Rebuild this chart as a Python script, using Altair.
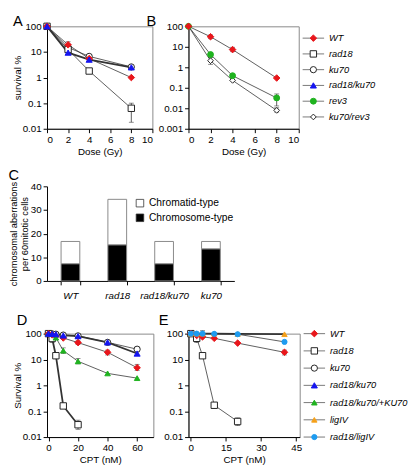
import altair as alt
import pandas as pd

# ---------------- data ----------------
# Panel A: survival (%) after IR
A_dose = [0, 2, 4, 8]
A_WT = [100, 19, 5.5, 1.0]
A_rad18 = [100, 12.5, 1.8, 0.063]
A_ku70 = [100, 15, 6.7, 2.6]
A_rad18ku70 = [100, 9.4, 5.0, 2.5]
A_WT_lo = [None, 15, 4.6, None]
A_WT_hi = [None, 25, 7.2, None]
A_rad18_lo = [None, None, None, 0.018]
A_rad18_hi = [None, None, None, 0.1]

# Panel B: survival (%) after IR
B_dose = [0, 2, 4, 8]
B_WT = [100, 31, 7.3, 0.3]
B_rev3 = [100, 4.2, 0.39, 0.032]
B_ku70rev3 = [100, 2.1, 0.23, 0.0079]
B_WT_lo = [None, 25, 5.8, None]
B_WT_hi = [None, 38, 9.5, None]
B_rev3_lo = [None, 3.2, None, 0.013]
B_rev3_hi = [None, 5.3, None, 0.05]
B_ku70rev3_lo = [None, 1.4, None, 0.0065]
B_ku70rev3_hi = [None, 3.0, None, 0.0105]

# Panel C: chromosomal aberrations per 60 mitotic cells
C_geno = ["WT", "rad18", "rad18/ku70", "ku70"]
C_chromosome = [7.3, 15.3, 7.3, 13.6]
C_chromatid = [9.4, 19.2, 9.4, 3.1]

# Panel D: survival (%) after CPT
D_cpt = [0, 2.5, 5, 10, 20, 40, 60]
D_WT = [100, 90, 80, 68, 45, 19, 4.8]
D_rad18 = [100, 65, 14, 0.16, 0.03, None, None]
D_ku70 = [100, 98, 95, 88, 82, 46, 25]
D_rad18ku70 = [100, 98, 95, 85, 80, 46, 17]
D_plusKU70 = [100, 95, 70, 22, 8.5, 2.9, 1.9]
D_WT_lo = [None, None, None, None, 38, 15, 3.8]
D_WT_hi = [None, None, None, None, 52, 23, 6.5]
D_rad18_lo = [None, 45, None, 0.13, 0.02, None, None]
D_rad18_hi = [None, 80, None, 0.2, 0.045, None, None]
D_ku70_lo = [None, None, None, None, None, None, 20]
D_ku70_hi = [None, None, None, None, None, None, 30]
D_plusKU70_lo = [None, None, None, 17, 6.8, None, None]
D_plusKU70_hi = [None, None, None, 28, 11, None, None]

# Panel E: survival (%) after CPT
E_cpt = [0, 2.5, 5, 10, 20, 40]
E_WT = [100, 85, 75, 66, 43, 19]
E_rad18 = [100, 66, 14, 0.17, 0.04, None]
E_ligIV = [100, 100, 100, 100, 97, 95]
E_rad18ligIV = [100, 100, 100, 98, 95, 48]
E_WT_lo = [None, None, None, None, None, 15]
E_WT_hi = [None, None, None, None, None, 23]
E_rad18_lo = [80, 45, None, 0.13, 0.028, None]
E_rad18_hi = [130, 80, None, 0.21, 0.055, None]
E_rad18ligIV_lo = [None, None, 80, None, None, None]
E_rad18ligIV_hi = [None, None, 130, None, None, None]

LEG_B = ["WT", "rad18", "ku70", "rad18/ku70", "rev3", "ku70/rev3"]
LEG_E = ["WT", "rad18", "ku70", "rad18/ku70", "rad18/ku70/+KU70", "ligIV", "rad18/ligIV"]

# ---------------- styles ----------------
RED = "#e8161b"
BLUE = "#1515f0"
GREEN = "#1fb31f"
ORANGE = "#f5a01a"
CYAN = "#1e9bf0"
STYLE = {
    "WT": ("diamond", RED, RED, 45),
    "rad18": ("square", "white", "#222", 28),
    "ku70": ("circle", "white", "#222", 60),
    "rad18/ku70": ("triangle-up", BLUE, BLUE, 55),
    "rev3": ("circle", GREEN, GREEN, 50),
    "ku70/rev3": ("diamond", "white", "#222", 45),
    "rad18/ku70/+KU70": ("triangle-up", GREEN, GREEN, 45),
    "ligIV": ("triangle-up", ORANGE, ORANGE, 50),
    "rad18/ligIV": ("circle", CYAN, CYAN, 60),
}
NAMES = list(STYLE.keys())
FONT = "Liberation Sans"


def enc_style():
    return dict(
        shape=alt.Shape("series:N", scale=alt.Scale(domain=NAMES, range=[STYLE[n][0] for n in NAMES]), legend=None),
        fill=alt.Fill("series:N", scale=alt.Scale(domain=NAMES, range=[STYLE[n][1] for n in NAMES]), legend=None),
        stroke=alt.Stroke("series:N", scale=alt.Scale(domain=NAMES, range=[STYLE[n][2] for n in NAMES]), legend=None),
        size=alt.Size("series:N", scale=alt.Scale(domain=NAMES, range=[STYLE[n][3] for n in NAMES]), legend=None),
    )


def rows(series, xs, ys, lo=None, hi=None):
    out = []
    for i, (xv, yv) in enumerate(zip(xs, ys)):
        if yv is None:
            continue
        out.append(dict(series=series, x=xv, y=yv,
                        lo=(lo[i] if lo else None), hi=(hi[i] if hi else None)))
    return out


def letter_title(letter, dx=0, offset=-2):
    return alt.TitleParams(letter, anchor="start", frame="bounds", fontSize=15,
                           fontWeight="normal", offset=offset, dx=dx)


def survival_panel(data, order, letter, xdom, xticks, ydom, yticks, xtitle, ytitle,
                   w, h, thick=(), letter_dx=0, letter_offset=-2):
    df = pd.DataFrame(data)
    df["ord"] = df["series"].map({s: i for i, s in enumerate(order)})
    df["lw"] = df["series"].map(lambda s: 1.8 if s in thick else 0.8)
    base = alt.Chart(df)
    xax = alt.Axis(values=xticks, title=xtitle, labelPadding=2, titlePadding=2)
    yax = alt.Axis(values=yticks, format="~g", title=ytitle, minExtent=24, maxExtent=24,
                   titlePadding=1, labelPadding=2)
    xs = alt.Scale(domain=xdom, nice=False, zero=False)
    ys = alt.Scale(type="log", domain=ydom, nice=False)
    x = alt.X("x:Q", scale=xs, axis=xax)
    y = alt.Y("y:Q", scale=ys, axis=yax)
    line = base.mark_line(color="#333").encode(
        x=x, y=y, detail="series:N",
        strokeWidth=alt.StrokeWidth("lw:Q", scale=None), order="x:Q")
    eb = base.transform_filter("isValid(datum.lo)")
    yl = alt.Y("lo:Q", scale=ys, axis=yax)
    err = eb.mark_rule(color="#333", strokeWidth=0.8).encode(x=x, y=yl, y2="hi:Q")
    cap_lo = eb.mark_tick(orient="horizontal", size=5, thickness=0.8, color="#333").encode(x=x, y=yl)
    cap_hi = eb.mark_tick(orient="horizontal", size=5, thickness=0.8, color="#333").encode(
        x=x, y=alt.Y("hi:Q", scale=ys, axis=yax))
    pts = base.mark_point(filled=True, opacity=1, strokeWidth=1).encode(
        x=x, y=y, order=alt.Order("ord:Q"), **enc_style())
    return alt.layer(line, err, cap_lo, cap_hi, pts).properties(
        width=w, height=h,
        title=letter_title(letter, letter_dx, letter_offset),
        view=alt.ViewBackground(stroke="#888", strokeWidth=1),
    )


def legend_panel(names, h, dx, padding):
    df = pd.DataFrame({"series": names})
    y = alt.Y("series:N", sort=names, axis=None, scale=alt.Scale(type="point", padding=padding))
    base = alt.Chart(df)
    rule = base.mark_rule(color="#555", strokeWidth=0.8).encode(
        y=y, x=alt.value(dx), x2=alt.value(dx + 22))
    pts = base.mark_point(filled=True, opacity=1, strokeWidth=1).encode(
        y=y, x=alt.value(dx + 11), **enc_style())
    txt = base.mark_text(align="left", baseline="middle", fontStyle="italic", fontSize=9.5,
                         font=FONT, color="black").encode(
        y=y, x=alt.value(dx + 27), text="series:N")
    return alt.layer(rule, pts, txt).properties(width=40, height=h)


# ---------------- panels ----------------
dA = (rows("ku70", A_dose, A_ku70) + rows("rad18", A_dose, A_rad18, A_rad18_lo, A_rad18_hi)
      + rows("WT", A_dose, A_WT, A_WT_lo, A_WT_hi) + rows("rad18/ku70", A_dose, A_rad18ku70))
panelA = survival_panel(dA, ["ku70", "rad18", "WT", "rad18/ku70"], "A", [0, 10],
                        [0, 2, 4, 6, 8, 10], [0.01, 100], [0.01, 0.1, 1, 10, 100],
                        "Dose (Gy)", "survival %", 108, 105, thick=("rad18/ku70",),
                        letter_offset=-8)

dB = (rows("ku70/rev3", B_dose, B_ku70rev3, B_ku70rev3_lo, B_ku70rev3_hi)
      + rows("rev3", B_dose, B_rev3, B_rev3_lo, B_rev3_hi)
      + rows("WT", B_dose, B_WT, B_WT_lo, B_WT_hi))
panelB = survival_panel(dB, ["ku70/rev3", "rev3", "WT"], "B", [0, 10],
                        [0, 2, 4, 6, 8, 10], [0.001, 100], [0.001, 0.01, 0.1, 1, 10, 100],
                        "Dose (Gy)", None, 113, 105, letter_dx=-12, letter_offset=-8)

legB = legend_panel(LEG_B, 105, -33, 0.75)

row1 = alt.hconcat(panelA, panelB, legB, spacing=37, bounds="flush")

dfc = pd.DataFrame(
    [dict(geno=g, type="Chromosome-type", value=v, ord=0) for g, v in zip(C_geno, C_chromosome)]
    + [dict(geno=g, type="Chromatid-type", value=v, ord=1) for g, v in zip(C_geno, C_chromatid)]
)
panelC = alt.Chart(dfc).mark_bar(stroke="#888", strokeWidth=1).encode(
    x=alt.X("geno:N", sort=C_geno, scale=alt.Scale(paddingInner=0.6, paddingOuter=0.3),
            axis=alt.Axis(title=None, labelAngle=0, labelFontStyle="italic", tickBand="extent",
                          labelPadding=6, labelFontSize=10)),
    y=alt.Y("value:Q", stack="zero", scale=alt.Scale(domain=[0, 40], nice=False),
            axis=alt.Axis(values=[0, 10, 20, 30, 40], title=["chromosomal aberrations", "per 60mitotic cells"],
                          titleFontSize=9.5, minExtent=16, maxExtent=16, titlePadding=2, labelPadding=2)),
    color=alt.Color("type:N", scale=alt.Scale(domain=["Chromatid-type", "Chromosome-type"], range=["white", "black"]),
                    legend=alt.Legend(title=None, orient="none", legendX=90, legendY=12, symbolType="square",
                                      symbolStrokeColor="#333", symbolStrokeWidth=0.8, symbolSize=60,
                                      labelFontSize=10.5, labelFont=FONT, labelColor="black", rowPadding=3)),
    order=alt.Order("ord:Q"),
).properties(
    width=192, height=97,
    title=letter_title("C"),
)

dD = (rows("ku70", D_cpt, D_ku70, D_ku70_lo, D_ku70_hi)
      + rows("rad18", D_cpt, D_rad18, D_rad18_lo, D_rad18_hi)
      + rows("WT", D_cpt, D_WT, D_WT_lo, D_WT_hi)
      + rows("rad18/ku70/+KU70", D_cpt, D_plusKU70, D_plusKU70_lo, D_plusKU70_hi)
      + rows("rad18/ku70", D_cpt, D_rad18ku70))
panelD = survival_panel(dD, ["ku70", "rad18", "WT", "rad18/ku70/+KU70", "rad18/ku70"], "D", [-1, 71],
                        [0, 20, 40, 60], [0.01, 100], [0.01, 0.1, 1, 10, 100],
                        "CPT (nM)", "Survival %", 109, 106, thick=("rad18", "rad18/ku70"),
                        letter_dx=4, letter_offset=1)

dE = (rows("rad18", E_cpt, E_rad18, E_rad18_lo, E_rad18_hi)
      + rows("WT", E_cpt, E_WT, E_WT_lo, E_WT_hi)
      + rows("ligIV", E_cpt, E_ligIV)
      + rows("rad18/ligIV", E_cpt, E_rad18ligIV, E_rad18ligIV_lo, E_rad18ligIV_hi))
panelE = survival_panel(dE, ["rad18", "WT", "ligIV", "rad18/ligIV"], "E", [-1, 46.5],
                        [0, 15, 30, 45], [0.01, 100], [0.01, 0.1, 1, 10, 100],
                        "CPT (nM)", None, 114, 106, thick=("ligIV",), letter_dx=-5, letter_offset=1)

legE = legend_panel(LEG_E, 106, -32, 0)

row3 = alt.hconcat(panelD, panelE, legE, spacing=36, bounds="flush")

chart = alt.vconcat(row1, panelC, row3, spacing=11).resolve_scale(
    color="independent"
).resolve_legend(
    color="independent"
).properties(padding=0).configure(
    font=FONT,
).configure_axis(
    labelFontSize=10, titleFontSize=10, labelColor="black", titleColor="black",
    domainColor="black", tickColor="black", tickSize=4, grid=False, titleFontWeight="normal",
    labelFont=FONT, titleFont=FONT,
).configure_view(stroke="transparent").configure_title(color="black", font=FONT)

chart.save("out.html", embed_options={"renderer": "svg", "actions": False})
